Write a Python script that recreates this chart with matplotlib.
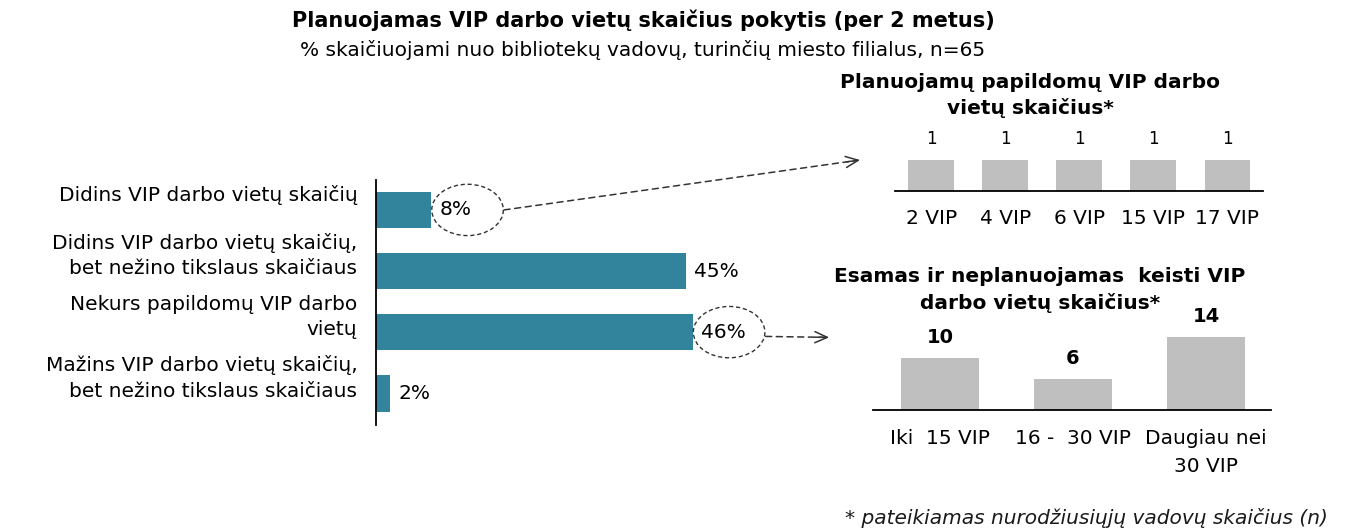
import matplotlib
matplotlib.use('Agg')
import matplotlib.pyplot as plt
from matplotlib.patches import Ellipse
import numpy as np

plt.rcParams['font.family'] = ['DejaVu Sans']

# main chart data
kategorijos = ['Didins VIP darbo vietų skaičių',
               'Didins VIP darbo vietų skaičių,\nbet nežino tikslaus skaičiaus',
               'Nekurs papildomų VIP darbo\nvietų',
               'Mažins VIP darbo vietų skaičių,\nbet nežino tikslaus skaičiaus']
procentai = [8, 45, 46, 2]

# planned additional places
papildomi_lbl = ['2 VIP', '4 VIP', '6 VIP', '15 VIP', '17 VIP']
papildomi_n = [1, 1, 1, 1, 1]

# existing places, no change planned
esami_lbl = ['Iki  15 VIP', '16 -  30 VIP', 'Daugiau nei\n30 VIP']
esami_n = [10, 6, 14]

W, H = 1346, 531
fig = plt.figure(figsize=(W / 100, H / 100), dpi=100)

def box(l, t, r, b):
    return [l / W, (H - b) / H, (r - l) / W, (b - t) / H]

teal = '#31849B'
grey = '#BFBFBF'
fs = 14.5

fig.text(643 / W, 1 - 20 / H, 'Planuojamas VIP darbo vietų skaičius pokytis (per 2 metus)',
         ha='center', va='center', fontsize=15, fontweight='bold')
fig.text(643 / W, 1 - 50 / H, '% skaičiuojami nuo bibliotekų vadovų, turinčių miesto filialus, n=65',
         ha='center', va='center', fontsize=fs)

# ---- main horizontal bars
ax = fig.add_axes(box(376, 180, 789, 425))
y = range(len(procentai))
ax.barh(y, procentai, height=0.6, color=teal)
ax.set_xlim(0, 60)
ax.set_ylim(3.52, -0.49)
for s in ['top', 'right', 'bottom']:
    ax.spines[s].set_visible(False)
ax.spines['left'].set_linewidth(1.3)
ax.set_xticks([])
ax.set_yticks([])
for i, (k, v) in enumerate(zip(kategorijos, procentai)):
    ax.text(-0.045, i - 0.25, k, transform=ax.get_yaxis_transform(), ha='right', va='center',
            fontsize=fs, linespacing=1.42)
    ax.annotate(f'{v}%', (v, i), xytext=(6, 0), textcoords='offset points',
                ha='left', va='center', fontsize=fs)

# dashed ellipses around 8% and 46%
for i in [0, 2]:
    ax.add_patch(Ellipse((procentai[i] + 5.3, i), 10.4, 0.84, fill=False, ls=(0, (3, 2)),
                         lw=1.0, ec='#333333'))

# ---- top right small chart
ax2 = fig.add_axes(box(895, 125, 1263, 191))
x2 = range(len(papildomi_n))
ax2.bar(x2, papildomi_n, width=0.62, color=grey)
ax2.set_xlim(-0.49, 4.48)
ax2.set_ylim(0, 2.13)
for s in ['top', 'right', 'left']:
    ax2.spines[s].set_visible(False)
ax2.spines['bottom'].set_linewidth(1.3)
ax2.set_yticks([])
ax2.set_xticks(list(x2))
ax2.set_xticklabels(papildomi_lbl, fontsize=fs)
ax2.tick_params(axis='x', length=0, pad=13)
for i, v in enumerate(papildomi_n):
    ax2.annotate(str(v), (i, v), xytext=(0, 9), textcoords='offset points',
                 ha='center', va='bottom', fontsize=12)
fig.text(1030 / W, 1 - 83 / H, 'Planuojamų papildomų VIP darbo',
         ha='center', va='center', fontsize=fs, fontweight='bold')
fig.text(1030 / W, 1 - 108 / H, 'vietų skaičius*',
         ha='center', va='center', fontsize=fs, fontweight='bold')

# ---- bottom right small chart
ax3 = fig.add_axes(box(873, 300, 1271, 410))
x3 = range(len(esami_n))
ax3.bar(x3, esami_n, width=0.59, color=grey)
ax3.set_xlim(-0.504, 2.489)
ax3.set_ylim(0, 21.2)
for s in ['top', 'right', 'left']:
    ax3.spines[s].set_visible(False)
ax3.spines['bottom'].set_linewidth(1.3)
ax3.set_yticks([])
ax3.set_xticks(list(x3))
ax3.set_xticklabels(esami_lbl, fontsize=fs, linespacing=1.55)
ax3.tick_params(axis='x', length=0, pad=14)
for i, v in enumerate(esami_n):
    ax3.annotate(str(v), (i, v), xytext=(0, 8), textcoords='offset points',
                 ha='center', va='bottom', fontsize=14, fontweight='bold')
fig.text(1040 / W, 1 - 277 / H, 'Esamas ir neplanuojamas  keisti VIP',
         ha='center', va='center', fontsize=fs, fontweight='bold')
fig.text(1040 / W, 1 - 303 / H, 'darbo vietų skaičius*',
         ha='center', va='center', fontsize=fs, fontweight='bold')

# ---- dashed arrows with a solid open chevron head
def arrow(xy_from, ax_from, xy_to, ax_to):
    p0 = ax_from.transData.transform(xy_from)
    p1 = ax_to.transAxes.transform(xy_to)
    ax_from.annotate('', xy=p1, xycoords='figure pixels', xytext=p0, textcoords='figure pixels',
                     arrowprops=dict(arrowstyle='-', lw=1.1, color='#333333', shrinkA=0, shrinkB=2,
                                     linestyle=(0, (4, 3))))
    d = (p1 - p0) / np.hypot(*(p1 - p0))
    ax_from.annotate('', xy=p1, xycoords='figure pixels', xytext=p1 - d * 14, textcoords='figure pixels',
                     arrowprops=dict(arrowstyle='->,head_length=0.9,head_width=0.4', lw=1.1,
                                     color='#333333', shrinkA=0, shrinkB=0))

arrow((procentai[0] + 10.6, 0), ax, (-0.095, 0.47), ax2)
arrow((procentai[2] + 10.6, 2.07), ax, (-0.11, 0.66), ax3)

fig.text(1328 / W, 1 - 518 / H, '* pateikiamas nurodžiusiųjų vadovų skaičius (n)',
         ha='right', va='center', fontsize=fs, style='italic', color='#1a1a1a')

fig.savefig('out.png', dpi=100)
